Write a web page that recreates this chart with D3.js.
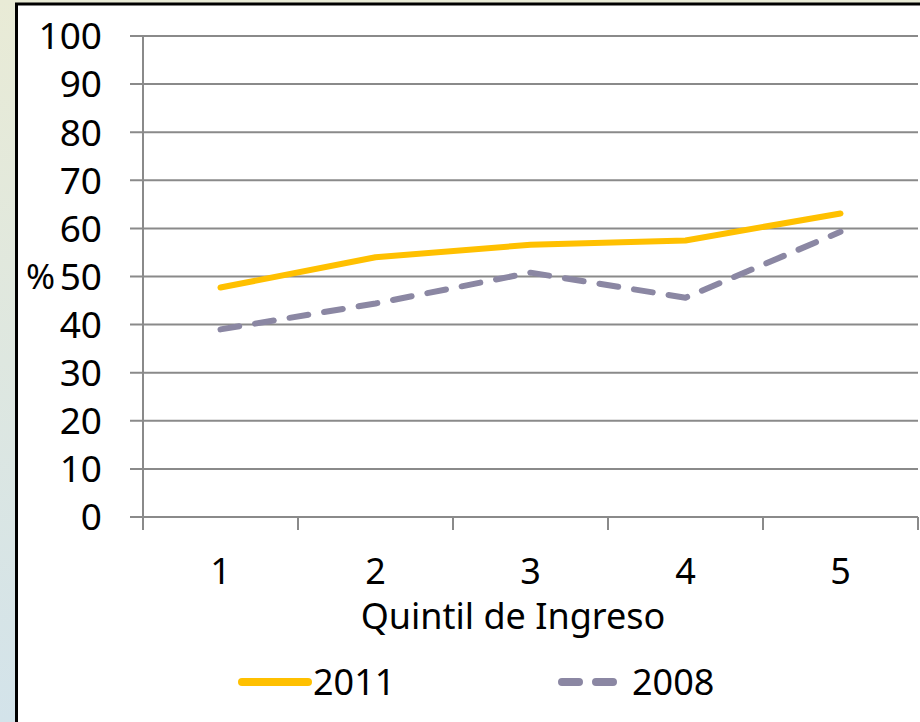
<!DOCTYPE html>
<html>
<head>
<meta charset="utf-8">
<script src="https://cdn.jsdelivr.net/npm/d3@7"></script>
<style>
  html, body { margin: 0; padding: 0; }
  body { width: 920px; height: 722px; overflow: hidden; }
</style>
</head>
<body>
<script>
const width = 920;
const height = 722;

const quintiles = ["1", "2", "3", "4", "5"];
const values2011 = [47.7, 54.0, 56.6, 57.5, 63.1];
const values2008 = [39.0, 44.4, 50.8, 45.6, 59.3];
const yTicks = [0, 10, 20, 30, 40, 50, 60, 70, 80, 90, 100];
const seriesNames = ["2011", "2008"];

const font = "'Noto Sans', 'Open Sans', sans-serif";

const svg = d3.select("body")
  .append("svg")
  .attr("width", width)
  .attr("height", height)
  .attr("viewBox", [0, 0, width, height]);

// background gradient behind the chart box
const defs = svg.append("defs");
const grad = defs.append("linearGradient")
  .attr("id", "bg")
  .attr("x1", 0).attr("y1", 0).attr("x2", 0).attr("y2", 1);
grad.append("stop").attr("offset", "0%").attr("stop-color", "#e9ebd6");
grad.append("stop").attr("offset", "100%").attr("stop-color", "#d3e3ea");

svg.append("rect")
  .attr("width", width).attr("height", height)
  .attr("fill", "url(#bg)");

svg.append("rect")
  .attr("x", 16.5).attr("y", 4)
  .attr("width", width + 10).attr("height", height + 10)
  .attr("fill", "white")
  .attr("stroke", "black")
  .attr("stroke-width", 3);

const marginLeft = 143;
const marginRight = 2;
const marginTop = 36;
const plotBottom = 517;

const xScale = d3.scaleBand(quintiles, [marginLeft, width - marginRight]);
const yScale = d3.scaleLinear([0, 100], [plotBottom, marginTop]);

// gridlines
svg.append("g")
  .attr("stroke", "#8a8a8a")
  .attr("stroke-width", 2)
  .selectAll("line")
  .data(yTicks)
  .join("line")
  .attr("x1", marginLeft - 13)
  .attr("x2", width - marginRight)
  .attr("y1", d => yScale(d))
  .attr("y2", d => yScale(d));

// y axis line
svg.append("line")
  .attr("x1", marginLeft).attr("x2", marginLeft)
  .attr("y1", marginTop).attr("y2", plotBottom + 13)
  .attr("stroke", "#8a8a8a")
  .attr("stroke-width", 2);

// x ticks at band edges
const edges = quintiles.map(q => xScale(q)).concat([xScale(quintiles[4]) + xScale.bandwidth()]);
svg.append("g")
  .attr("stroke", "#8a8a8a")
  .attr("stroke-width", 2)
  .selectAll("line")
  .data(edges.slice(1))
  .join("line")
  .attr("x1", d => d).attr("x2", d => d)
  .attr("y1", plotBottom).attr("y2", plotBottom + 13);

// y labels
svg.append("g")
  .attr("font-family", font)
  .attr("font-size", 37)
  .attr("text-anchor", "end")
  .selectAll("text")
  .data(yTicks)
  .join("text")
  .attr("x", 102)
  .attr("y", d => yScale(d))
  .attr("dy", "0.36em")
  .text(d => d);

svg.append("text")
  .attr("x", 26)
  .attr("y", yScale(50))
  .attr("dy", "0.36em")
  .attr("font-family", font)
  .attr("font-size", 35)
  .text("%");

// x labels
svg.append("g")
  .attr("font-family", font)
  .attr("font-size", 36)
  .attr("text-anchor", "middle")
  .selectAll("text")
  .data(quintiles)
  .join("text")
  .attr("x", d => xScale(d) + xScale.bandwidth() / 2)
  .attr("y", 584)
  .text(d => d);

svg.append("text")
  .attr("x", 513)
  .attr("y", 629)
  .attr("text-anchor", "middle")
  .attr("font-family", font)
  .attr("font-size", 36)
  .text("Quintil de Ingreso");

const line = d3.line()
  .x((d, i) => xScale(quintiles[i]) + xScale.bandwidth() / 2)
  .y(d => yScale(d));

svg.append("path")
  .attr("d", line(values2008))
  .attr("fill", "none")
  .attr("stroke", "#8b87a3")
  .attr("stroke-width", 6)
  .attr("stroke-linecap", "round")
  .attr("stroke-linejoin", "round")
  .attr("stroke-dasharray", "19,16");

svg.append("path")
  .attr("d", line(values2011))
  .attr("fill", "none")
  .attr("stroke", "#ffc000")
  .attr("stroke-width", 6)
  .attr("stroke-linecap", "round")
  .attr("stroke-linejoin", "round");

// legend
const legend = svg.append("g").attr("font-family", font).attr("font-size", 36);
legend.append("line")
  .attr("x1", 242).attr("x2", 308)
  .attr("y1", 682).attr("y2", 682)
  .attr("stroke", "#ffc000").attr("stroke-width", 8)
  .attr("stroke-linecap", "round");
legend.append("text")
  .attr("x", 313).attr("y", 682).attr("dy", "0.36em")
  .text(seriesNames[0]);
legend.append("line")
  .attr("x1", 562).attr("x2", 620)
  .attr("y1", 682).attr("y2", 682)
  .attr("stroke", "#8b87a3").attr("stroke-width", 8)
  .attr("stroke-linecap", "round")
  .attr("stroke-dasharray", "17,17");
legend.append("text")
  .attr("x", 632).attr("y", 682).attr("dy", "0.36em")
  .text(seriesNames[1]);
</script>
</body>
</html>
